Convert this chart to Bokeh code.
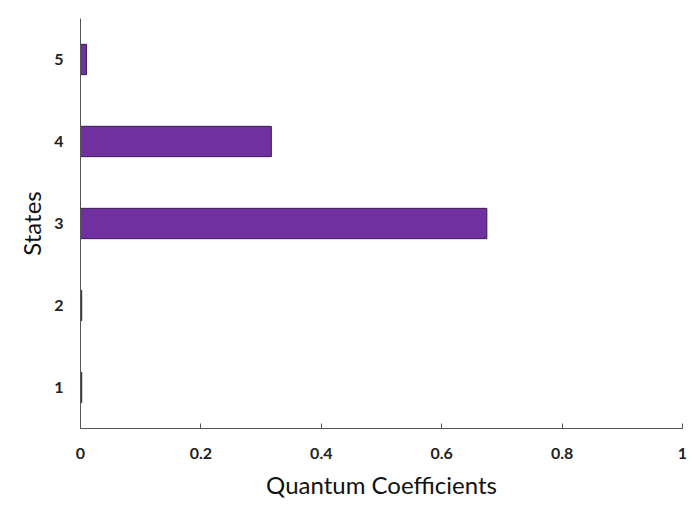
from bokeh.plotting import figure
from bokeh.models import FixedTicker, Range1d
from bokeh.embed import file_html
from bokeh.resources import INLINE

states = [1, 2, 3, 4, 5]
coefficients = [0.002, 0.002, 0.675, 0.317, 0.010]
x_ticks = [0, 0.2, 0.4, 0.6, 0.8, 1]
x_tick_labels = {0: "0", 0.2: "0.2", 0.4: "0.4", 0.6: "0.6", 0.8: "0.8", 1: "1"}

p = figure(width=692, height=507, output_backend="svg", toolbar_location=None,
           x_range=Range1d(0, 1), y_range=Range1d(0.5, 5.5),
           min_border_left=80, min_border_right=10, min_border_top=18, min_border_bottom=79)
p.hbar(y=states, right=coefficients, left=0, height=0.37,
       fill_color="#7030a0", line_color="#3b1a55", line_width=1)

p.xgrid.visible = False
p.ygrid.visible = False
p.outline_line_color = None

p.xaxis.ticker = FixedTicker(ticks=x_ticks)
p.xaxis.major_label_overrides = x_tick_labels
p.yaxis.ticker = FixedTicker(ticks=states)
p.xaxis.minor_tick_line_color = None
p.yaxis.minor_tick_line_color = None
p.xaxis.major_tick_in = 5
p.xaxis.major_tick_out = 0
p.yaxis.major_tick_in = 0
p.yaxis.major_tick_out = 0
for ax in (p.xaxis, p.yaxis):
    ax.axis_line_color = "#555555"
    ax.major_tick_line_color = "#555555"
    ax.major_label_text_font = "Lato"
    ax.major_label_text_font_style = "bold"
    ax.major_label_text_font_size = "16px"
    ax.major_label_text_color = "#222222"
    ax.axis_label_text_font = "Lato"
    ax.axis_label_text_font_style = "normal"
    ax.axis_label_text_font_size = "24px"
    ax.axis_label_text_color = "#111111"
p.xaxis.axis_label = "Quantum Coefficients"
p.yaxis.axis_label = "States"
p.xaxis.major_label_standoff = 19
p.xaxis.axis_label_standoff = 8
p.yaxis.major_label_standoff = 17
p.yaxis.axis_label_standoff = 5

open("out.html", "w").write(file_html(p, INLINE))
